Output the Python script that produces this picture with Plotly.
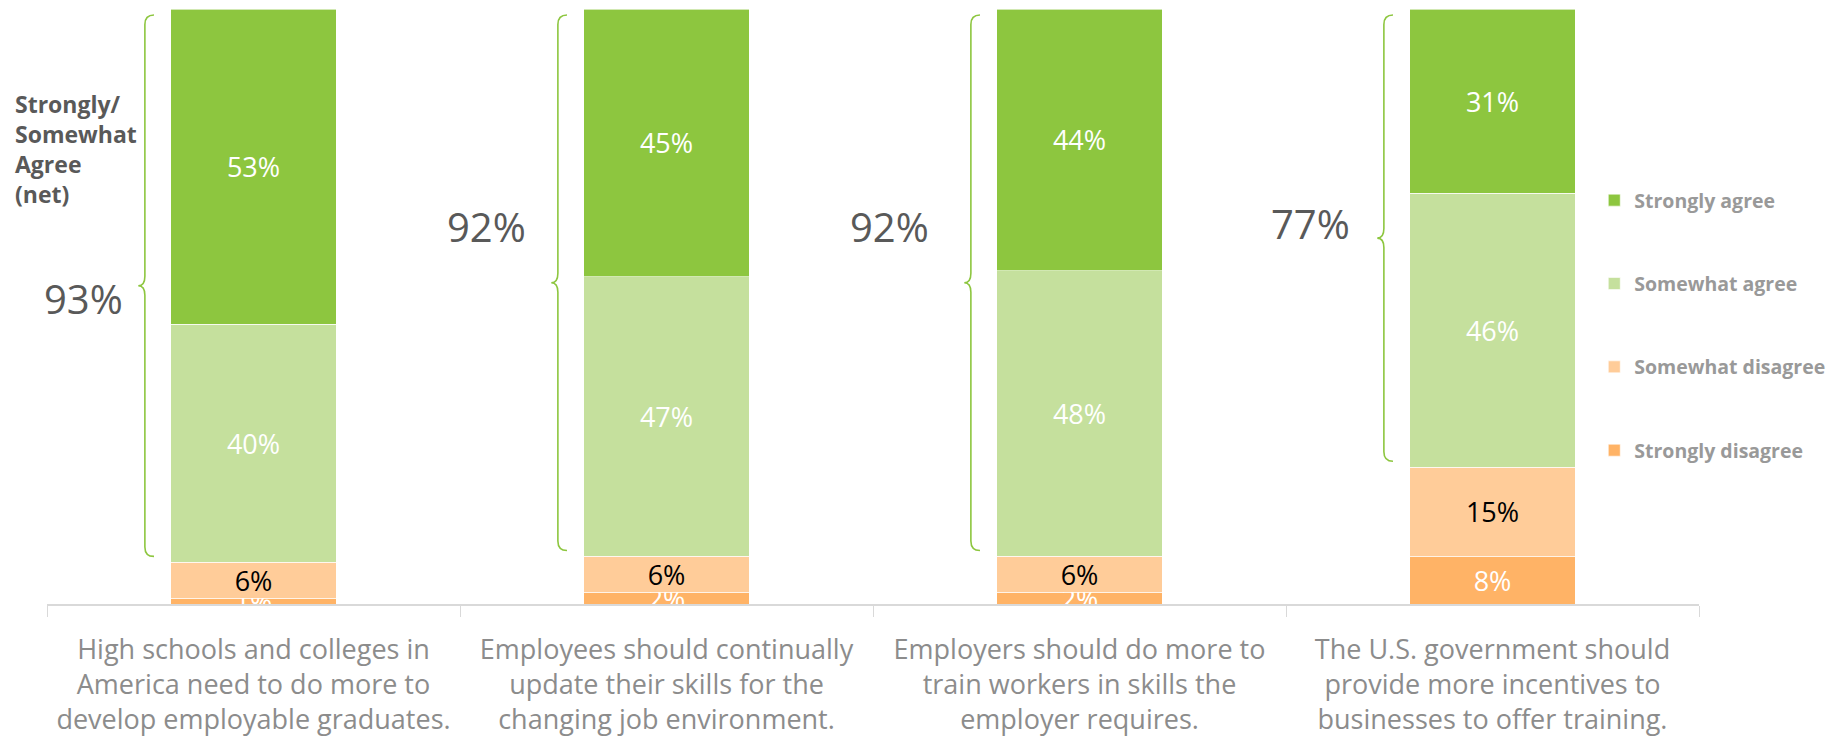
import plotly.graph_objects as go

# ---------------- data ----------------
categories = [
    "High schools and colleges in<br>America need to do more to<br>develop employable graduates.",
    "Employees should continually<br>update their skills for the<br>changing job environment.",
    "Employers should do more to<br>train workers in skills the<br>employer requires.",
    "The U.S. government should<br>provide more incentives to<br>businesses to offer training.",
]
strongly_disagree = [1, 2, 2, 8]
somewhat_disagree = [6, 6, 6, 15]
somewhat_agree = [40, 47, 48, 46]
strongly_agree = [53, 45, 44, 31]
series_names = ["Strongly disagree", "Somewhat disagree", "Somewhat agree", "Strongly agree"]
net_title = "Strongly/<br>Somewhat<br>Agree<br>(net)"

# ---------------- style ----------------
colors = ["#FFB366", "#FFCC99", "#C5E09D", "#8DC63F"]
text_colors = ["white", "black", "white", "white"]
legend_ranks = [4, 3, 2, 1]
BAR_FONT = "Open Sans, sans-serif"
TICK_FONT = "Open Sans, sans-serif"

# page body has an 8px default margin: figure is sized/margined to compensate
FIG_W, FIG_H = 1831, 729
PLOT_W, PLOT_H = 1652, 595

fig = go.Figure()
series = [strongly_disagree, somewhat_disagree, somewhat_agree, strongly_agree]
for name, vals, col, tcol, rank in zip(series_names, series, colors, text_colors, legend_ranks):
    fig.add_trace(go.Bar(
        x=categories, y=vals, name=name, legendgroup=name, legendrank=rank,
        marker=dict(color=col, line=dict(color="white", width=0.6)),
        text=[f"{v}%" for v in vals],
        textposition="inside", insidetextanchor="middle", textangle=0,
        constraintext="none",
        insidetextfont=dict(color=tcol, size=27, family=BAR_FONT),
        width=0.4, cliponaxis=True, hoverinfo="skip",
    ))

# curly-brace brackets over the "agree" portion
shapes = []
annotations = []
net_label_y = [51.3, 63.5, 63.5, 64.0]
net_label_shift = [-20, -30, -40, -32]
for i in range(len(categories)):
    net = somewhat_agree[i] + strongly_agree[i]
    ybot = 100 - net + 1
    ytop = 99
    ym = (ybot + ytop) / 2
    xb = i - 0.263
    c = 0.022   # end curl (x units)
    t = 0.016   # tip protrusion (x units)
    r = 1.6     # curl radius (y units)
    path = (f"M {xb + c},{ytop} Q {xb},{ytop} {xb},{ytop - r} "
            f"L {xb},{ym + r} Q {xb},{ym} {xb - t},{ym} "
            f"Q {xb},{ym} {xb},{ym - r} "
            f"L {xb},{ybot + r} Q {xb},{ybot} {xb + c},{ybot}")
    shapes.append(dict(type="path", path=path, xref="x", yref="y",
                       line=dict(color="#8DC63F", width=1.6)))
    annotations.append(dict(
        x=xb, y=net_label_y[i], xref="x", yref="y", xanchor="right", yanchor="middle",
        xshift=net_label_shift[i], text=f"{net}%", showarrow=False,
        font=dict(size=40, color="#595959", family=BAR_FONT)))

annotations.append(dict(
    x=(13 - 47) / PLOT_W, y=0.765, xref="paper", yref="paper",
    xanchor="left", yanchor="middle",
    text=net_title, showarrow=False, align="left",
    font=dict(size=23, color="#595959", family=BAR_FONT, weight="bold")))

fig.update_layout(
    barmode="stack",
    width=FIG_W, height=FIG_H,
    margin=dict(l=39, r=FIG_W - 39 - PLOT_W, t=1, b=FIG_H - 1 - PLOT_H, autoexpand=False),
    plot_bgcolor="white", paper_bgcolor="white",
    shapes=shapes, annotations=annotations,
    showlegend=True,
    legend=dict(
        x=0.9366, y=0.711, xanchor="left", yanchor="top",
        traceorder="grouped", tracegroupgap=55,
        font=dict(size=19.5, color="#999999", family=BAR_FONT, weight="bold"),
        bgcolor="rgba(0,0,0,0)", itemclick=False,
    ),
    xaxis=dict(
        type="category", range=[-0.5, len(categories) - 0.5], autorange=False,
        showgrid=False, zeroline=False, automargin=False,
        showline=True, linecolor="#D9D9D9", linewidth=1.5,
        ticks="outside", tickson="boundaries", ticklen=11, tickcolor="#D9D9D9",
        tickfont=dict(size=27, color="#8C8C8C", family=TICK_FONT),
        ticklabelstandoff=21,
    ),
    yaxis=dict(range=[0, 100], visible=False, showgrid=False, zeroline=False),
    uniformtext=dict(mode="show", minsize=10),
)

fig.write_html("out.html")
